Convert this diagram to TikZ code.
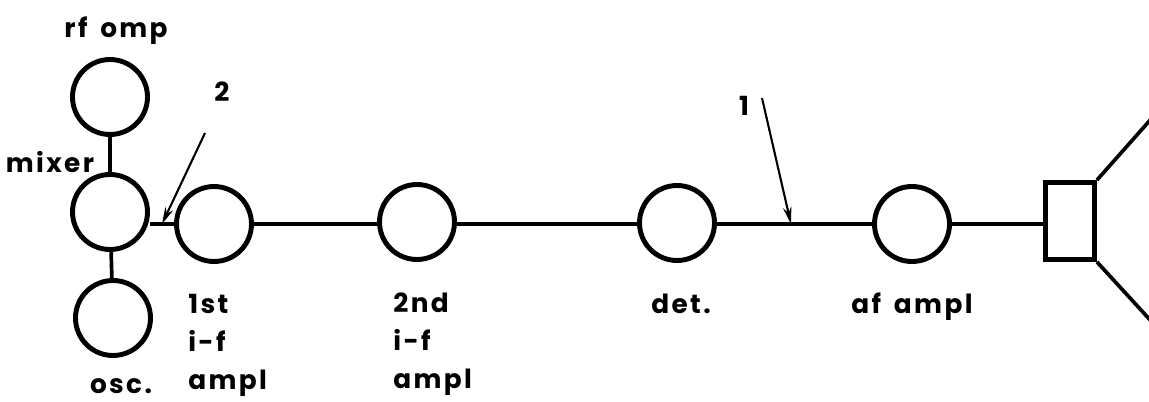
\documentclass[tikz,border=0pt]{standalone}
\usepackage{fontspec}
\setmainfont{Poppins}[LetterSpace=9, WordSpace=1.6]
\usetikzlibrary{arrows.meta}

\tikzset{
  stage/.style={draw, circle, line width=2.8pt, minimum size=1.5cm, inner sep=0pt},
  lbl/.style={draw=none, align=left, anchor=base, font=\bfseries\fontsize{15}{21.5}\selectfont, inner sep=0pt},
  wire/.style={line width=2.1pt},
  pointer/.style={line width=1.2pt, -{Stealth[length=3.4mm, width=1.7mm]}}
}

\begin{document}
\begin{tikzpicture}[x=0.02cm, y=-0.02cm]
    \useasboundingbox (0,0) rectangle (1149,402);

    % front end
    \node [stage] (rf) at (110,97) {};
    \node [stage] (mixer) at (110,212) {};
    \node [stage] (osc) at (113,318) {};
    \node [lbl] (rfl) at (116,38) {rf omp};
    \node [lbl] (mixl) at (50,173) {mixer};
    \node [lbl] (oscl) at (121,393) {osc.};
    \draw [wire] (rf) -- (mixer);
    \draw [wire] (mixer) -- (osc);

    % i-f, det and af chain
    \node [stage] (if1) at (214,224) {};
    \node [stage] (if2) at (417,222) {};
    \node [stage] (det) at (677,223) {};
    \node [stage] (af) at (912,224) {};
    \node [lbl, anchor=base west] (if1l) at (188,389) {1st\\i-f\\ampl};
    \node [lbl, anchor=base west] (if2l) at (393,388) {2nd\\i-f\\ampl};
    \node [lbl] (detl) at (681,313) {det.};
    \node [lbl] (afl) at (912,313) {af ampl};
    \draw [wire] (mixer.east |- if1) -- (if1);
    \draw [wire] (if1) -- (if2.west |- if1);
    \draw [wire] (if2.east |- if1) -- (det.west |- if1);
    \draw [wire] (det.east |- if1) -- (af);

    % speaker
    \node [draw, line width=2.8pt, minimum width=0.98cm, minimum height=1.54cm, inner sep=0pt] (spk) at (1070,221) {};
    \coordinate (c1) at (1152,118);
    \coordinate (c2) at (1152,322);
    \draw [wire] (af) -- (af -| spk.west);
    \draw [wire] (spk.north east) -- (c1);
    \draw [wire] (spk.south east) -- (c2);

    % test points
    \node [lbl] (n2) at (222,102) {2};
    \coordinate (a2) at (205,133);
    \coordinate (p2) at (162,224);
    \draw [pointer] (a2) -- (p2);
    \node [lbl] (n1) at (744,115) {1};
    \coordinate (a1) at (762,98);
    \coordinate (p1) at (791,224);
    \draw [pointer] (a1) -- (p1);
  \end{tikzpicture}
\end{document}
